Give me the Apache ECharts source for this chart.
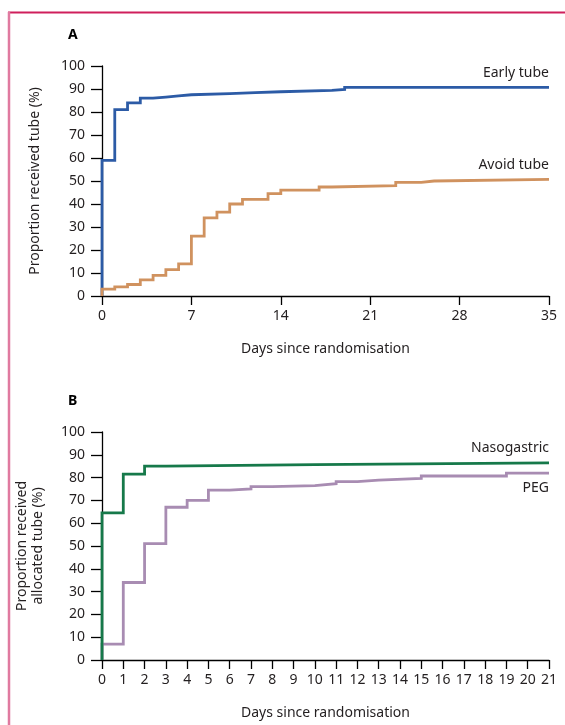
<!DOCTYPE html>
<html>
<head>
<meta charset="utf-8">
<script src="https://cdn.jsdelivr.net/npm/echarts@6/dist/echarts.min.js"></script>
<style>
html,body{margin:0;padding:0;background:#fff;}
#c{width:565px;height:725px;}
</style>
</head>
<body>
<div id="c"></div>
<script>
// Panel A: days and cumulative proportion (%)
const earlyDays = [0, 0, 1, 2, 3, 4, 5, 6, 7, 10, 12, 14, 18, 19, 35];
const earlyVals = [0, 59, 81, 84, 86, 86.5, 87, 87.5, 88, 88.4, 88.8, 89.4, 89.8, 90.7, 90.7];
const avoidDays = [0, 0, 1, 2, 3, 4, 5, 6, 7, 8, 9, 10, 11, 13, 14, 17, 18, 23, 25, 26, 35];
const avoidVals = [0, 3, 4, 5, 7, 9, 11.5, 14, 26, 34, 36.5, 40, 42, 44.5, 46, 47.4, 48, 49.4, 50, 50.7, 50.7];

// Panel B
const nasoDays = [0, 0, 1, 2, 3, 10, 21];
const nasoVals = [0, 64.5, 81.5, 85, 85.7, 86.5, 86.5];
const pegDays = [0, 0, 1, 2, 3, 4, 5, 6, 7, 8, 10, 11, 12, 13, 15, 19, 21];
const pegVals = [0, 7, 34, 51, 67, 70, 74.5, 75, 76, 76.5, 77.3, 78.2, 78.9, 79.6, 80.7, 82, 82.3];

const seriesNames = ['Early tube', 'Avoid tube', 'Nasogastric', 'PEG'];
const yTitleA = 'Proportion received tube (%)';
const yTitleB = 'Proportion received\nallocated tube (%)';
const xTitle = 'Days since randomisation';

const zip = (a, b) => a.map((d, i) => [d, b[i]]);
const FONT = '"Noto Sans", "Open Sans", sans-serif';
const txt = '#231f20';

function yAxis(gridIndex, name, gap) {
  return {
    type: 'value', gridIndex, min: 0, max: 100, interval: 10,
    name, nameLocation: 'middle', nameGap: gap,
    nameTextStyle: { fontFamily: FONT, fontSize: 14, color: txt, lineHeight: 16 },
    axisLine: { show: true, lineStyle: { color: '#000', width: 1.3 } },
    axisTick: { show: true, length: 11, lineStyle: { color: '#000', width: 1.3 } },
    axisLabel: { fontFamily: FONT, fontSize: 14, color: txt, margin: 17 },
    splitLine: { show: false }
  };
}
function xAxis(gridIndex, max, interval) {
  return {
    type: 'value', gridIndex, min: 0, max, interval,
    name: xTitle, nameLocation: 'middle', nameGap: 46,
    nameTextStyle: { fontFamily: FONT, fontSize: 14, color: txt },
    axisLine: { show: true, onZero: false, lineStyle: { color: '#000', width: 1.3 } },
    axisTick: { show: true, length: 9, lineStyle: { color: '#000', width: 1.3 } },
    axisLabel: { fontFamily: FONT, fontSize: 14, color: txt, margin: 13 },
    splitLine: { show: false }
  };
}
function stepSeries(name, data, color, xi) {
  return {
    name, type: 'line', step: 'end', xAxisIndex: xi, yAxisIndex: xi,
    data, symbol: 'none', animation: false,
    lineStyle: { color, width: 2.8, cap: 'butt', join: 'miter' }
  };
}

const chart = echarts.init(document.getElementById('c'), null, { renderer: 'canvas' });
chart.setOption({
  backgroundColor: '#fff',
  animation: false,
  grid: [
    { left: 102, top: 66, width: 447, height: 230 },
    { left: 102, top: 432, width: 447, height: 228 }
  ],
  xAxis: [xAxis(0, 35, 7), xAxis(1, 21, 1)],
  yAxis: [yAxis(0, yTitleA, 59), yAxis(1, yTitleB, 56)],
  series: [
    stepSeries(seriesNames[0], zip(earlyDays, earlyVals), '#2c5ba6', 0),
    stepSeries(seriesNames[1], zip(avoidDays, avoidVals), '#d0925f', 0),
    stepSeries(seriesNames[3], zip(pegDays, pegVals), '#a88cb2', 1),
    stepSeries(seriesNames[2], zip(nasoDays, nasoVals), '#16794a', 1)
  ],
  graphic: [
    { type: 'line', shape: { x1: 8, y1: 12.5, x2: 565, y2: 12.5 }, style: { stroke: '#cf1f5c', lineWidth: 2 } },
    { type: 'line', shape: { x1: 9, y1: 12, x2: 9, y2: 725 }, style: { stroke: '#e07aa0', lineWidth: 2.5 } },
    { type: 'text', left: 68, top: 28, style: { text: 'A', font: 'bold 14px ' + FONT, fill: '#000' } },
    { type: 'text', left: 68, top: 394, style: { text: 'B', font: 'bold 14px ' + FONT, fill: '#000' } },
    { type: 'text', x: 549, y: 73, style: { text: seriesNames[0], font: '14px ' + FONT, fill: txt, align: 'right', verticalAlign: 'middle' } },
    { type: 'text', x: 549, y: 165, style: { text: seriesNames[1], font: '14px ' + FONT, fill: txt, align: 'right', verticalAlign: 'middle' } },
    { type: 'text', x: 549, y: 448, style: { text: seriesNames[2], font: '14px ' + FONT, fill: txt, align: 'right', verticalAlign: 'middle' } },
    { type: 'text', x: 549, y: 488, style: { text: seriesNames[3], font: '14px ' + FONT, fill: txt, align: 'right', verticalAlign: 'middle' } }
  ]
});
</script>
</body>
</html>
